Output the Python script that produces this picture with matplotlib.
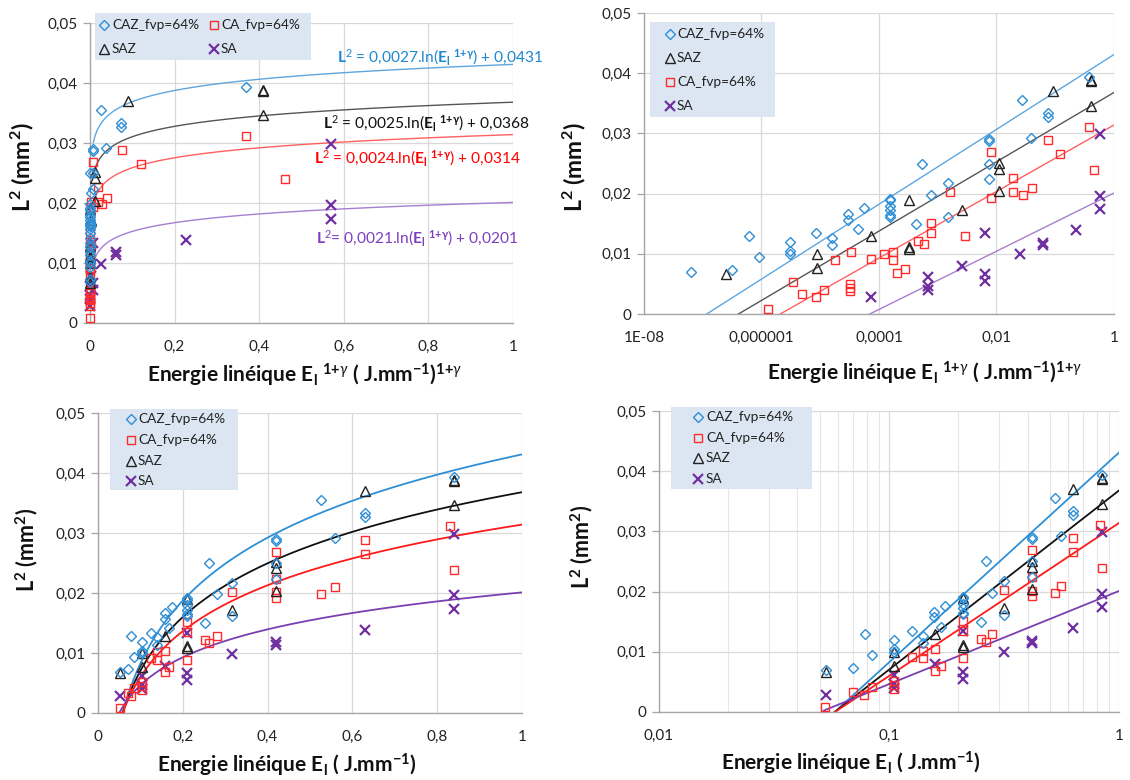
import matplotlib
matplotlib.use("Agg")
import matplotlib.pyplot as plt
import numpy as np
from matplotlib.ticker import FuncFormatter, FixedLocator, FixedFormatter, LogLocator, NullFormatter
from matplotlib.lines import Line2D
from matplotlib.patches import Rectangle

plt.rcParams['font.family'] = ['Lato', 'DejaVu Sans']
plt.rcParams['mathtext.fontset'] = 'custom'
plt.rcParams['mathtext.rm'] = 'Lato'
plt.rcParams['mathtext.bf'] = 'Lato:bold'
plt.rcParams['mathtext.it'] = 'Lato:italic'

# ---------------- data ----------------
series_names = ["CAZ_fvp=64%", "CA_fvp=64%", "SAZ", "SA"]

# CAZ_fvp=64%
caz_E = [0.053, 0.070, 0.079, 0.084, 0.105, 0.105, 0.105, 0.126, 0.140, 0.140,
         0.157, 0.157, 0.168, 0.175, 0.210, 0.210, 0.210, 0.210, 0.210, 0.210,
         0.252, 0.263, 0.280, 0.315, 0.315, 0.420, 0.420, 0.420, 0.420, 0.525,
         0.560, 0.630, 0.630, 0.840]
caz_X = [6.3e-8, 3.2e-7, 6.2e-7, 8.9e-7, 3.1e-6, 3.1e-6, 3.1e-6, 8.5e-6, 1.6e-5, 1.6e-5,
         3.0e-5, 3.0e-5, 4.4e-5, 5.6e-5, 1.55e-4, 1.55e-4, 1.55e-4, 1.55e-4, 1.55e-4, 1.55e-4,
         4.3e-4, 5.5e-4, 7.8e-4, 1.5e-3, 1.5e-3, 7.4e-3, 7.4e-3, 7.4e-3, 7.4e-3, 0.027,
         0.039, 0.074, 0.074, 0.37]
caz_L2 = [0.0069, 0.0073, 0.0129, 0.0094, 0.0119, 0.0104, 0.0100, 0.0134, 0.0127, 0.0114,
          0.0166, 0.0157, 0.0141, 0.0176, 0.0191, 0.0189, 0.0180, 0.0172, 0.0165, 0.0162,
          0.0150, 0.0250, 0.0198, 0.0217, 0.0161, 0.0290, 0.0287, 0.0250, 0.0224, 0.0355,
          0.0292, 0.0334, 0.0327, 0.0393]

# SAZ
saz_E = [0.053, 0.105, 0.105, 0.158, 0.210, 0.210, 0.210, 0.315, 0.420, 0.420,
         0.420, 0.630, 0.840, 0.840, 0.840]
saz_X = [2.5e-7, 8.7e-6, 8.7e-6, 7.2e-5, 3.2e-4, 3.2e-4, 3.2e-4, 2.6e-3, 0.011, 0.011,
         0.011, 0.091, 0.41, 0.41, 0.41]
saz_L2 = [0.0067, 0.0100, 0.0077, 0.0129, 0.0190, 0.0112, 0.0108, 0.0172, 0.0251, 0.0241,
          0.0204, 0.0370, 0.0389, 0.0387, 0.0346]

# SA
sa_E = [0.053, 0.105, 0.105, 0.105, 0.158, 0.210, 0.210, 0.210, 0.315, 0.420,
        0.420, 0.630, 0.840, 0.840, 0.840]
sa_X = [7.4e-5, 6.8e-4, 6.8e-4, 6.8e-4, 2.6e-3, 6.5e-3, 6.5e-3, 6.5e-3, 0.025, 0.062,
        0.062, 0.227, 0.57, 0.57, 0.57]
sa_L2 = [0.0028, 0.0062, 0.0047, 0.0040, 0.0079, 0.0134, 0.0066, 0.0055, 0.0099, 0.0118,
         0.0114, 0.0139, 0.0299, 0.0196, 0.0174]

# CA_fvp=64%  (bottom panels: E ; top panels: E^(1+gamma))
ca_E = [0.0525, 0.070, 0.078, 0.084, 0.105, 0.105, 0.105, 0.126, 0.140, 0.140,
        0.158, 0.158, 0.168, 0.210, 0.210, 0.210, 0.252, 0.263, 0.280, 0.315,
        0.420, 0.420, 0.420, 0.420, 0.525, 0.560, 0.630, 0.630, 0.830, 0.840]
ca_L2 = [0.0008, 0.0033, 0.0028, 0.0041, 0.0051, 0.0045, 0.0039, 0.0091, 0.0102, 0.0089,
         0.0104, 0.0068, 0.0076, 0.0151, 0.0135, 0.0089, 0.0121, 0.0117, 0.0129, 0.0202,
         0.0269, 0.0224, 0.0201, 0.0192, 0.0198, 0.0210, 0.0289, 0.0265, 0.0311, 0.0239]
ca_X = [1.3e-6, 3.5e-6, 4.9e-6, 8.5e-6, 1.15e-5, 1.8e-5, 3.2e-5, 3.2e-5, 3.2e-5, 3.4e-5,
        7.4e-5, 1.2e-4, 1.7e-4, 1.7e-4, 2.0e-4, 2.8e-4, 4.6e-4, 5.9e-4, 7.8e-4, 7.8e-4,
        1.6e-3, 2.9e-3, 8.1e-3, 8.1e-3, 0.019, 0.019, 0.028, 0.041, 0.076, 0.12,
        0.37, 0.46]
ca_L2_top = [0.0008, 0.0053, 0.0033, 0.0029, 0.0040, 0.0089, 0.0050, 0.0044, 0.0039, 0.0103,
             0.0091, 0.0100, 0.0103, 0.0089, 0.0068, 0.0075, 0.0121, 0.0117, 0.0151, 0.0135,
             0.0202, 0.0129, 0.0269, 0.0193, 0.0226, 0.0202, 0.0198, 0.0209, 0.0289, 0.0265,
             0.0311, 0.0240]

# log trend lines  L2 = a*ln(x) + b
fit_top_a = {"CAZ": 0.0027, "SAZ": 0.0025, "CA": 0.0024, "SA": 0.0021}
fit_b = {"CAZ": 0.0431, "SAZ": 0.0368, "CA": 0.0314, "SA": 0.0201}
fit_bot_a = {"CAZ": 0.01514, "SAZ": 0.01293, "CA": 0.01104, "SA": 0.00672}

EQ_E = r"$\mathbf{E}_{\mathbf{l}}$ $^{\mathbf{1{+}\gamma}}$"
eq_texts = {
    "CAZ": r"$\mathbf{L}^{2}$ = 0,0027.ln(" + EQ_E + ") + 0,0431",
    "SAZ": r"$\mathbf{L}^{2}$ = 0,0025.ln(" + EQ_E + ") + 0,0368",
    "CA": r"$\mathbf{L}^{2}$ = 0,0024.ln(" + EQ_E + ") + 0,0314",
    "SA": r"$\mathbf{L}^{2}$= 0,0021.ln(" + EQ_E + ") + 0,0201",
}

y_ticks = [0, 0.01, 0.02, 0.03, 0.04, 0.05]
lin_x_ticks = [0, 0.2, 0.4, 0.6, 0.8, 1]
log_top_ticks = [1e-8, 1e-6, 1e-4, 1e-2, 1]
log_top_labels = ["1E-08", "0,000001", "0,0001", "0,01", "1"]
log_bot_ticks = [0.01, 0.1, 1]
log_bot_labels = ["0,01", "0,1", "1"]

# ---------------- styles ----------------
C_BLUE = "#2f8fd6"
C_RED = "#ff2a2a"
C_BLACK = "#222222"
C_PURPLE = "#7030a0"
mk = {
    "CAZ": dict(marker="D", ms=4.6, mfc="none", mec=C_BLUE, mew=1.0, ls="none"),
    "CA": dict(marker="s", ms=6.3, mfc="none", mec=C_RED, mew=1.0, ls="none"),
    "SAZ": dict(marker="^", ms=6.5, mfc="none", mec=C_BLACK, mew=1.0, ls="none"),
    "SA": dict(marker="x", ms=6.5, mfc="none", mec=C_PURPLE, mew=1.6, ls="none"),
}
line_top = {"CAZ": "#5fa6de", "SAZ": "#555555", "CA": "#ff6060", "SA": "#a57fd0"}
line_bot = {"CAZ": "#2f8fd6", "SAZ": "#111111", "CA": "#ff1a1a", "SA": "#7a3fb0"}
eq_col = {"CAZ": "#1f88d2", "SAZ": "#111111", "CA": "#ff0000", "SA": "#7d3fbf"}
label_of = {"CAZ": series_names[0], "CA": series_names[1], "SAZ": series_names[2], "SA": series_names[3]}

fmt_comma = FuncFormatter(lambda v, p: ("%g" % v).replace(".", ","))
GRID = "#d9d9d9"
AXC = "#a6a6a6"
W, H = 1130.0, 780.0

fig = plt.figure(figsize=(11.3, 7.8), dpi=100)

def style(ax):
    for s in ["top", "right"]:
        ax.spines[s].set_visible(False)
    for s in ["left", "bottom"]:
        ax.spines[s].set_color(AXC)
        ax.spines[s].set_linewidth(1.0)
    ax.tick_params(which="both", direction="out", color=AXC, width=0.9,
                   labelsize=11, labelcolor="#222222")
    ax.tick_params(axis="y", length=5, pad=4)
    ax.tick_params(axis="x", which="both", length=0, pad=12)
    ax.set_ylim(0, 0.05)
    ax.yaxis.set_major_locator(FixedLocator(y_ticks))
    ax.yaxis.set_major_formatter(fmt_comma)
    ax.grid(True, which="major", color=GRID, lw=0.9)
    ax.set_axisbelow(True)

ax1 = fig.add_axes([0.0796, 0.5859, 0.3743, 0.3846])
ax2 = fig.add_axes([0.5699, 0.5974, 0.4159, 0.3859])
ax3 = fig.add_axes([0.0867, 0.0859, 0.3752, 0.3846])
ax4 = fig.add_axes([0.5832, 0.0872, 0.4071, 0.3859])
for a in (ax1, ax2, ax3, ax4):
    style(a)

top_data = {"CAZ": (caz_X, caz_L2), "CA": (ca_X, ca_L2_top), "SAZ": (saz_X, saz_L2), "SA": (sa_X, sa_L2)}
bot_data = {"CAZ": (caz_E, caz_L2), "CA": (ca_E, ca_L2), "SAZ": (saz_E, saz_L2), "SA": (sa_E, sa_L2)}

# ---- panel 1 (linear, E^(1+g)) ----
xs1 = np.linspace(0.008, 1, 400)
for k in ["CAZ", "SAZ", "CA", "SA"]:
    ax1.plot(xs1, fit_top_a[k] * np.log(xs1) + fit_b[k], color=line_top[k], lw=1.0, zorder=2)
for k in ["SA", "CA", "SAZ", "CAZ"]:
    ax1.plot(top_data[k][0], top_data[k][1], label=label_of[k], zorder=3, clip_on=False, **mk[k])
ax1.set_xlim(0, 1)
ax1.xaxis.set_major_locator(FixedLocator(lin_x_ticks))
ax1.xaxis.set_major_formatter(fmt_comma)

# ---- panel 2 (log, E^(1+g)) ----
xs2 = np.logspace(-8, 0, 400)
for k in ["CAZ", "SAZ", "CA", "SA"]:
    ax2.plot(xs2, fit_top_a[k] * np.log(xs2) + fit_b[k], color=line_top[k], lw=1.0, zorder=2)
for k in ["SA", "CA", "SAZ", "CAZ"]:
    ax2.plot(top_data[k][0], top_data[k][1], label=label_of[k], zorder=3, **mk[k])
ax2.set_xscale("log")
ax2.set_xlim(1e-8, 1)
ax2.xaxis.set_major_locator(FixedLocator(log_top_ticks))
ax2.xaxis.set_major_formatter(FixedFormatter(log_top_labels))
ax2.xaxis.set_minor_locator(FixedLocator([]))

# ---- panel 3 (linear, E) ----
xs3 = np.linspace(0.052, 1, 400)
for k in ["CAZ", "SAZ", "CA", "SA"]:
    ax3.plot(xs3, fit_bot_a[k] * np.log(xs3) + fit_b[k], color=line_bot[k], lw=1.3, zorder=2)
for k in ["SA", "CA", "SAZ", "CAZ"]:
    ax3.plot(bot_data[k][0], bot_data[k][1], label=label_of[k], zorder=3, **mk[k])
ax3.set_xlim(0, 1)
ax3.xaxis.set_major_locator(FixedLocator(lin_x_ticks))
ax3.xaxis.set_major_formatter(fmt_comma)

# ---- panel 4 (log, E) ----
xs4 = np.logspace(np.log10(0.052), 0, 300)
for k in ["CAZ", "SAZ", "CA", "SA"]:
    ax4.plot(xs4, fit_bot_a[k] * np.log(xs4) + fit_b[k], color=line_bot[k], lw=1.3, zorder=2)
for k in ["SA", "CA", "SAZ", "CAZ"]:
    ax4.plot(bot_data[k][0], bot_data[k][1], label=label_of[k], zorder=3, **mk[k])
ax4.set_xscale("log")
ax4.set_xlim(0.01, 1)
ax4.xaxis.set_major_locator(FixedLocator(log_bot_ticks))
ax4.xaxis.set_major_formatter(FixedFormatter(log_bot_labels))
ax4.xaxis.set_minor_locator(LogLocator(base=10, subs=np.arange(2, 10)))
ax4.xaxis.set_minor_formatter(NullFormatter())
ax4.grid(True, which="minor", axis="x", color="#e6e6e6", lw=0.8)

# ---- legends (drawn as keyed boxes) ----
LEG_BG = "#dce6f2"
def legend_box(box, entries, fs=9.8):
    x0, y0, x1, y1 = box
    fig.add_artist(Rectangle((x0 / W, 1 - y1 / H), (x1 - x0) / W, (y1 - y0) / H,
                             transform=fig.transFigure, facecolor=LEG_BG,
                             edgecolor="none", zorder=5))
    for key, mx, tx, ry in entries:
        fig.add_artist(Line2D([mx / W], [1 - ry / H], transform=fig.transFigure,
                              zorder=6, **mk[key]))
        fig.text(tx / W, 1 - ry / H, label_of[key], fontsize=fs, ha="left",
                 va="center", color="#222222", zorder=6)

legend_box((95, 13, 311, 60), [("CAZ", 104, 112, 25), ("CA", 214, 221, 25),
                                ("SAZ", 104, 112, 49), ("SA", 214, 221, 49)])
legend_box((650, 22, 775, 117), [("CAZ", 670, 677, 34), ("SAZ", 670, 677, 58),
                                  ("CA", 670, 677, 82), ("SA", 670, 677, 106)])
legend_box((110, 409, 238, 490), [("CAZ", 131, 138, 419), ("CA", 131, 138, 440),
                                   ("SAZ", 131, 138, 461), ("SA", 131, 138, 481)])
legend_box((671, 407, 812, 489), [("CAZ", 698, 706, 417), ("CA", 698, 706, 438),
                                   ("SAZ", 698, 706, 458), ("SA", 698, 706, 479)])

# ---- equations in panel 1 ----
eq_pos = {"CAZ": (337, 57), "SAZ": (323, 123), "CA": (314, 158), "SA": (316, 238)}
for k, (px, py) in eq_pos.items():
    fig.text(px / W, 1 - py / H, eq_texts[k], color=eq_col[k], fontsize=11.2,
             ha="left", va="center")

# ---- axis labels ----
xl_top = r"Energie linéique E$_{\mathbf{l}}$ $^{\mathbf{1{+}}\gamma}$ ( J.mm$^{\mathbf{-1}}$)$^{\mathbf{1{+}}\gamma}$"
xl_bot = r"Energie linéique E$_{\mathbf{l}}$ ( J.mm$^{\mathbf{-1}}$)"
yl = r"$\mathbf{L}^{\mathbf{2}}$ (mm$^{\mathbf{2}}$)"
lab_kw = dict(fontsize=15, fontweight="bold", color="#111111")
fig.text(305 / W, 1 - 375 / H, xl_top, ha="center", va="center", **lab_kw)
fig.text(925 / W, 1 - 373 / H, xl_top, ha="center", va="center", **lab_kw)
fig.text(287 / W, 1 - 765 / H, xl_bot, ha="center", va="center", **lab_kw)
fig.text(851 / W, 1 - 763 / H, xl_bot, ha="center", va="center", **lab_kw)
yl_kw = dict(rotation=90, ha="center", va="center", fontweight="bold", color="#111111")
fig.text(22 / W, 1 - 167 / H, yl, fontsize=16.5, **yl_kw)
fig.text(574 / W, 1 - 167 / H, yl, fontsize=16.5, **yl_kw)
fig.text(27 / W, 1 - 550 / H, yl, fontsize=15.5, **yl_kw)
fig.text(582 / W, 1 - 547 / H, yl, fontsize=15.5, **yl_kw)

fig.savefig("out.png", dpi=100, facecolor="white")
